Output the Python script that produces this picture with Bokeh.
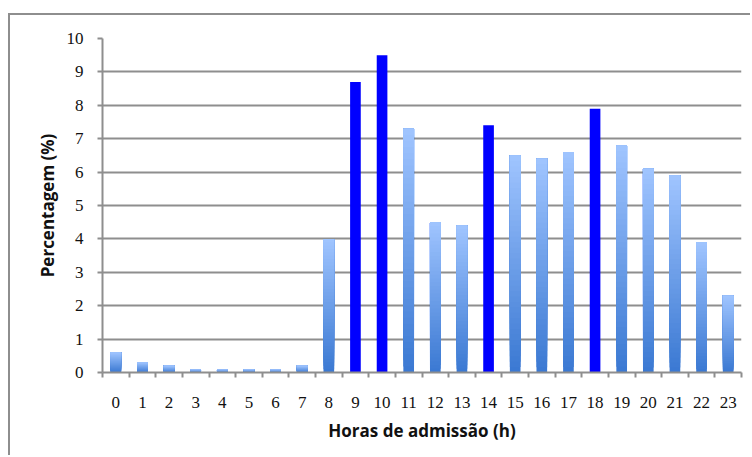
import numpy as np
from bokeh.plotting import figure
from bokeh.layouts import column
from bokeh.models import FixedTicker, ColumnDataSource, Range1d
from bokeh.embed import file_html
from bokeh.resources import INLINE

hours = list(range(24))
values = [0.6, 0.3, 0.2, 0.1, 0.1, 0.1, 0.1, 0.2, 4.0, 8.7, 9.5, 7.3,
          4.5, 4.4, 7.4, 6.5, 6.4, 6.6, 7.9, 6.8, 6.1, 5.9, 3.9, 2.3]
highlight = [9, 10, 14, 18]
x_labels = [str(h) for h in hours]
y_ticks = list(range(0, 11))

top_rgb = np.array([160, 197, 255])
bot_rgb = np.array([58, 120, 210])

p = figure(width=740, height=440, output_backend="svg", toolbar_location=None,
           x_range=Range1d(-0.5, 23.5), y_range=Range1d(0, 10),
           min_border_left=92, min_border_right=9, min_border_top=23,
           min_border_bottom=83)
p.outline_line_color = None

# gradient bars: overlapping slices drawn bottom to top
N = 40
xs, bots, tops, cols = [], [], [], []
for i in range(N):
    f0 = i / N
    t = (i + 0.5) / N
    c = bot_rgb + (top_rgb - bot_rgb) * t
    col = "#%02x%02x%02x" % tuple(int(round(k)) for k in c)
    for h, v in zip(hours, values):
        if h in highlight:
            continue
        xs.append(h)
        bots.append(v * f0)
        tops.append(v)
        cols.append(col)
src = ColumnDataSource(dict(x=xs, bottom=bots, top=tops, color=cols))
p.vbar(x="x", bottom="bottom", top="top", width=0.4, fill_color="color",
       line_color=None, source=src)

hx = [h for h in hours if h in highlight]
hv = [values[h] for h in hx]
p.vbar(x=hx, top=hv, bottom=0, width=0.4, fill_color="#0000ff", line_color=None)

# axes
p.xaxis.ticker = FixedTicker(ticks=hours, minor_ticks=[h - 0.5 for h in hours] + [23.5])
p.xaxis.major_label_overrides = {h: s for h, s in zip(hours, x_labels)}
p.xaxis.major_tick_line_color = None
p.xaxis.minor_tick_out = 5
p.xaxis.minor_tick_in = 0
p.xaxis.minor_tick_line_color = "#8e8e8e"
p.xaxis.minor_tick_line_width = 2
p.yaxis.ticker = FixedTicker(ticks=y_ticks)
p.yaxis.minor_tick_line_color = None
p.yaxis.major_tick_out = 5
p.yaxis.major_tick_in = 0
p.yaxis.major_tick_line_color = "#8e8e8e"
p.yaxis.major_tick_line_width = 2

for ax in (p.xaxis, p.yaxis):
    ax.axis_line_color = "#8e8e8e"
    ax.axis_line_width = 2
    ax.major_label_text_font = "Liberation Serif"
    ax.major_label_text_font_size = "17px"
    ax.major_label_text_color = "#111111"
    ax.axis_label_text_font = "Open Sans"
    ax.axis_label_text_font_style = "bold"
    ax.axis_label_text_font_size = "17px"
    ax.axis_label_text_color = "#111111"

p.xaxis.major_label_standoff = 18
p.yaxis.major_label_standoff = 14
p.xaxis.axis_label = "Horas de admissão (h)"
p.yaxis.axis_label = "Percentagem (%)"
p.xaxis.axis_label_standoff = 8
p.yaxis.axis_label_standoff = 5

p.xgrid.grid_line_color = None
p.ygrid.grid_line_color = "#8e8e8e"
p.ygrid.grid_line_width = 2
p.background_fill_color = "white"
p.border_fill_color = "white"

layout = column(p, styles={"border-left": "2px solid #8e8e8e",
                           "border-top": "2px solid #8e8e8e",
                           "margin-left": "8px", "margin-top": "13px"})

open("out.html", "w").write(file_html(layout, INLINE))
